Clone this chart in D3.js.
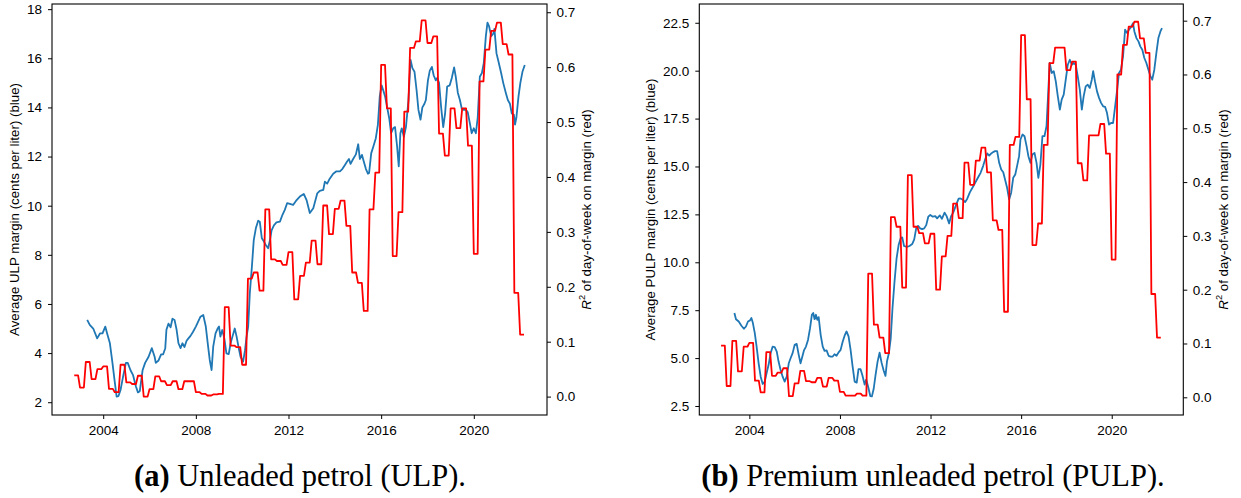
<!DOCTYPE html>
<html><head><meta charset="utf-8">
<script src="https://cdn.jsdelivr.net/npm/d3@7"></script>
<style>
body{margin:0;background:#fff;}
svg{display:block;}
</style></head><body>
<svg id="c" width="1241" height="498"></svg>
<script>
// ---------- data ----------
const xTicks = [2004, 2008, 2012, 2016, 2020];
const ulpTicks = [2, 4, 6, 8, 10, 12, 14, 16, 18];
const pulpTicks = [2.5, 5, 7.5, 10, 12.5, 15, 17.5, 20, 22.5];
const r2Ticks = [0, 0.1, 0.2, 0.3, 0.4, 0.5, 0.6, 0.7];
const captions = [["(a)", " Unleaded petrol (ULP)."], ["(b)", " Premium unleaded petrol (PULP)."]];
const yLabels = ["Average ULP margin (cents per liter) (blue)", "Average PULP margin (cents per liter) (blue)"];

const quarters = [2002.75,
 2003,2003.25,2003.5,2003.75, 2004,2004.25,2004.5,2004.75, 2005,2005.25,2005.5,2005.75,
 2006,2006.25,2006.5,2006.75, 2007,2007.25,2007.5,2007.75, 2008,2008.25,2008.5,2008.75,
 2009,2009.25,2009.5,2009.75, 2010,2010.25,2010.5,2010.75, 2011,2011.25,2011.5,2011.75,
 2012,2012.25,2012.5,2012.75, 2013,2013.25,2013.5,2013.75, 2014,2014.25,2014.5,2014.75,
 2015,2015.25,2015.5,2015.75, 2016,2016.25,2016.5,2016.75, 2017,2017.25,2017.5,2017.75,
 2018,2018.25,2018.5,2018.75, 2019,2019.25,2019.5,2019.75, 2020,2020.25,2020.5,2020.75,
 2021,2021.25,2021.5,2021.75, 2022];

const ulpR2 = [0.0385,
 0.0165,0.063,0.032,0.050, 0.055,0.014,0.008,0.058, 0.026,0.023,0.038,0.0,
 0.0135,0.037,0.028,0.021, 0.028,0.0135,0.028,0.028, 0.008,0.005,0.002,0.004,
 0.005,0.163,0.093,0.090, 0.058,0.215,0.226,0.193, 0.341,0.25,0.247,0.240,
 0.263,0.177,0.220,0.244, 0.284,0.241,0.348,0.296, 0.342,0.357,0.311,0.226,
 0.207,0.156,0.341,0.408, 0.604,0.525,0.256,0.336, 0.519,0.635,0.647,0.685,
 0.644,0.656,0.479,0.439, 0.525,0.489,0.525,0.457, 0.26,0.574,0.632,0.666,
 0.681,0.642,0.623,0.189, 0.113];

const pulpR2 = [0.096,
 0.021,0.105,0.048,0.094, 0.101,0.031,0.009,0.084, 0.040,0.046,0.054,0.002,
 0.026,0.049,0.030,0.028, 0.036,0.020,0.036,0.031, 0.010,0.003,0.003,0.007,
 0.003,0.230,0.135,0.111, 0.082,0.335,0.317,0.204, 0.413,0.317,0.305,0.286,
 0.304,0.200,0.262,0.300, 0.360,0.333,0.436,0.395, 0.440,0.464,0.418,0.329,
 0.311,0.159,0.469,0.484, 0.673,0.554,0.283,0.323, 0.469,0.621,0.650,0.650,
 0.608,0.624,0.435,0.403, 0.487,0.487,0.508,0.453, 0.256,0.600,0.655,0.689,
 0.698,0.667,0.640,0.192, 0.111];

const ulpYears = [
 2003.31,2003.42,2003.57,2003.74,2003.86,2003.97,2004.09,2004.17,2004.29,2004.40,
 2004.49,2004.58,2004.66,2004.75,2004.86,2004.98,2005.06,2005.18,2005.29,2005.41,
 2005.50,2005.58,2005.70,2005.81,2005.96,2006.10,2006.22,2006.27,2006.39,2006.50,
 2006.59,2006.68,2006.73,2006.82,2006.91,2006.99,2007.08,2007.17,2007.25,2007.34,
 2007.42,2007.51,2007.60,2007.68,2007.77,2007.88,2008.00,2008.10,2008.20,2008.32,
 2008.43,2008.53,2008.60,2008.68,2008.75,2008.85,2008.94,2009.00,2009.06,2009.14,
 2009.23,2009.32,2009.42,2009.50,2009.58,2009.68,2009.76,2009.84,2009.93,2010.04,
 2010.12,2010.19,2010.26,2010.33,2010.42,2010.50,2010.59,2010.69,2010.76,2010.85,
 2010.94,2011.02,2011.12,2011.20,2011.27,2011.37,2011.48,2011.63,2011.74,2011.84,
 2011.94,2012.06,2012.20,2012.35,2012.49,2012.66,2012.78,2012.92,2013.07,2013.24,
 2013.35,2013.50,2013.57,2013.67,2013.78,2013.93,2014.07,2014.22,2014.33,2014.43,
 2014.53,2014.61,2014.68,2014.79,2014.91,2015.01,2015.08,2015.17,2015.25,2015.34,
 2015.43,2015.48,2015.57,2015.66,2015.77,2015.86,2015.94,2016.02,2016.09,2016.17,
 2016.26,2016.35,2016.43,2016.52,2016.60,2016.69,2016.76,2016.83,2016.89,2016.98,
 2017.07,2017.18,2017.27,2017.35,2017.44,2017.53,2017.61,2017.70,2017.78,2017.87,
 2017.93,2018.02,2018.10,2018.19,2018.27,2018.36,2018.42,2018.50,2018.59,2018.68,
 2018.76,2018.85,2018.96,2019.05,2019.15,2019.22,2019.31,2019.40,2019.48,2019.57,
 2019.66,2019.74,2019.83,2019.91,2020.00,2020.09,2020.17,2020.26,2020.35,2020.43,
 2020.52,2020.59,2020.66,2020.75,2020.84,2020.89,2020.98,2021.07,2021.18,2021.27,
 2021.38,2021.47,2021.56,2021.64,2021.73,2021.78,2021.84,2021.93,2022.01,2022.10,
 2022.20];
const ulpMargin = [
 5.35,5.15,5.0,4.6,4.8,4.8,5.08,4.8,4.4,3.6,
 2.9,2.23,2.25,2.5,3.05,3.6,3.6,3.3,3.1,2.65,
 2.4,2.45,3.3,3.6,3.85,4.2,3.85,3.6,3.7,3.95,
 3.95,4.2,4.95,5.2,5.05,5.4,5.35,4.95,4.4,4.2,
 4.4,4.25,4.5,4.6,4.7,4.87,5.08,5.28,5.48,5.55,
 5.08,4.26,3.72,3.31,4.26,4.8,5.0,5.08,4.67,4.94,
 4.6,3.99,3.96,4.4,4.67,5.0,4.67,4.26,3.85,3.65,
 4.1,4.67,5.08,6.44,7.52,8.6,9.08,9.39,9.35,8.67,
 8.54,8.4,8.27,8.6,9.0,9.2,9.32,9.35,9.63,9.83,
 10.1,10.07,10.03,10.23,10.37,10.48,10.23,9.7,9.9,10.5,
 10.6,10.64,10.98,10.9,11.1,11.3,11.4,11.4,11.5,11.65,
 11.8,11.9,11.7,11.9,12.09,12.5,11.9,12.07,11.8,11.5,
 11.3,11.33,12.13,12.4,12.75,13.3,14.45,14.9,14.7,14.45,
 14.0,13.55,12.95,13.15,13.2,12.4,11.6,12.95,13.15,12.8,
 13.2,14.3,15.93,15.6,15.45,14.7,13.9,13.5,14.0,14.15,
 14.3,15.1,15.5,15.65,15.3,15.1,15.2,15.0,14.0,13.2,
 13.75,14.85,14.9,15.2,15.63,15.25,14.6,14.3,13.95,13.9,
 13.9,13.8,13.35,12.95,13.15,12.95,13.6,15.25,15.4,15.8,
 16.9,17.45,17.3,16.9,17.0,17.2,16.2,15.85,15.4,15.0,
 14.6,14.3,14.15,13.75,13.7,13.3,13.6,14.45,15.0,15.45,
 15.73];

const pulpYears = [
 2003.34,2003.41,2003.53,2003.65,2003.76,2003.85,2003.94,2004.03,2004.09,2004.15,
 2004.24,2004.32,2004.41,2004.50,2004.59,2004.68,2004.76,2004.85,2004.94,2005.03,
 2005.12,2005.21,2005.29,2005.38,2005.47,2005.56,2005.65,2005.74,2005.82,2005.91,
 2006.00,2006.09,2006.18,2006.26,2006.32,2006.41,2006.50,2006.59,2006.68,2006.76,
 2006.82,2006.88,2006.94,2007.00,2007.06,2007.15,2007.24,2007.32,2007.41,2007.50,
 2007.59,2007.68,2007.76,2007.85,2007.94,2008.03,2008.12,2008.21,2008.29,2008.38,
 2008.47,2008.56,2008.65,2008.74,2008.82,2008.91,2008.99,2009.09,2009.16,2009.25,
 2009.34,2009.41,2009.49,2009.57,2009.66,2009.75,2009.84,2009.93,2010.01,2010.08,
 2010.16,2010.24,2010.32,2010.41,2010.50,2010.59,2010.68,2010.75,2010.83,2010.95,
 2011.07,2011.19,2011.28,2011.37,2011.45,2011.54,2011.63,2011.72,2011.81,2011.90,
 2011.99,2012.10,2012.21,2012.29,2012.41,2012.50,2012.62,2012.71,2012.82,2012.91,
 2013.00,2013.12,2013.24,2013.32,2013.41,2013.53,2013.62,2013.74,2013.85,2013.97,
 2014.09,2014.21,2014.32,2014.41,2014.50,2014.59,2014.68,2014.76,2014.85,2014.94,
 2015.03,2015.12,2015.21,2015.29,2015.38,2015.47,2015.56,2015.65,2015.74,2015.82,
 2015.91,2015.97,2016.06,2016.15,2016.24,2016.32,2016.41,2016.50,2016.59,2016.68,
 2016.76,2016.85,2016.94,2017.03,2017.12,2017.18,2017.26,2017.35,2017.44,2017.53,
 2017.62,2017.71,2017.79,2017.88,2017.97,2018.06,2018.15,2018.24,2018.32,2018.41,
 2018.50,2018.59,2018.68,2018.76,2018.85,2018.94,2019.03,2019.12,2019.18,2019.26,
 2019.35,2019.44,2019.53,2019.62,2019.71,2019.79,2019.88,2019.97,2020.06,2020.15,
 2020.24,2020.32,2020.41,2020.50,2020.59,2020.68,2020.76,2020.85,2020.94,2021.00,
 2021.09,2021.18,2021.26,2021.35,2021.44,2021.53,2021.62,2021.71,2021.79,2021.88,
 2021.97,2022.06,2022.15,2022.22];
const pulpMargin = [
 7.35,7.03,6.91,6.69,6.53,6.65,6.91,6.97,7.09,6.86,
 6.3,5.6,4.73,4.03,3.65,3.77,4.21,4.65,5.26,5.6,
 5.57,5.34,4.82,4.38,4.03,3.77,4.03,4.73,4.99,5.26,
 5.69,5.74,5.17,4.73,4.99,5.4,5.6,5.95,6.56,7.26,
 7.35,7.03,7.26,7.0,7.14,6.2,5.6,5.38,5.4,5.12,
 5.08,5.08,5.2,5.12,5.3,5.43,5.85,6.18,6.39,6.13,
 5.43,4.56,3.77,3.72,4.42,4.42,4.1,3.62,3.88,3.48,
 3.02,3.0,3.4,4.1,4.8,5.28,4.75,4.35,4.07,4.85,
 5.25,6.0,7.6,9.0,10.2,10.9,11.25,11.3,10.85,10.8,
 10.85,10.95,11.2,11.8,11.9,11.77,11.73,11.77,11.94,12.38,
 12.47,12.38,12.41,12.29,12.45,12.27,12.59,12.41,12.03,12.41,
 12.59,12.97,13.32,13.33,13.28,13.14,13.32,13.66,13.89,14.15,
 14.41,14.67,15.02,15.36,15.68,15.57,15.68,15.75,15.8,15.8,
 15.19,14.84,14.7,14.32,13.89,13.28,13.63,14.41,14.58,15.02,
 15.54,16.41,16.67,16.58,16.06,15.54,15.19,15.63,15.71,15.19,
 14.41,15.1,16.58,16.58,17.1,18.49,20.4,19.88,19.97,19.44,
 18.66,17.97,18.49,18.75,19.53,20.31,20.57,20.31,20.4,20.31,
 19.7,19.01,17.97,18.66,19.18,19.27,19.1,19.53,19.97,19.44,
 18.92,18.58,18.32,18.14,18.11,17.8,17.19,17.27,17.27,18.14,
 19.01,19.88,20.05,20.75,22.14,21.96,22.14,22.27,22.48,22.05,
 21.7,21.53,21.27,21.09,20.66,20.4,20.05,19.7,19.53,20.05,
 20.92,21.7,22.05,22.22];

// ---------- drawing ----------
const svg = d3.select("#c");
const SANS = "'Liberation Sans', Arial, sans-serif";
const FS = 13.5;
const LFS = 13.3;
const TOP = 4, BOT = 415;

function styleAxis(g) {
  g.attr("font-family", SANS).attr("font-size", FS);
  g.select(".domain").remove();
  g.selectAll(".tick line").attr("stroke", "#000").attr("stroke-width", 1);
  g.selectAll(".tick text").attr("fill", "#000");
}

function panel(o) {
  const g = svg.append("g");
  const x = d3.scaleLinear().domain([2001.79, 2023.16]).range([o.x0, o.x1]);
  const yL = d3.scaleLinear().domain(o.yLdom).range([BOT, TOP]);
  const yR = d3.scaleLinear().domain(o.yRdom).range([BOT, TOP]);

  const blue = d3.line().x((d, i) => x(o.years[i])).y(d => yL(d));
  g.append("path").attr("d", blue(o.margin))
    .attr("fill", "none").attr("stroke", "#1f77b4").attr("stroke-width", 1.8)
    .attr("stroke-linejoin", "round");

  // red series: each quarterly value is held for two months, then moves to the next one
  const pts = [];
  o.r2.forEach((v, i) => { pts.push([quarters[i], v], [quarters[i] + 2 / 12, v]); });
  const red = d3.line().x(d => x(d[0])).y(d => yR(d[1]));
  g.append("path").attr("d", red(pts))
    .attr("fill", "none").attr("stroke", "#ff0000").attr("stroke-width", 1.8)
    .attr("stroke-linejoin", "round");

  g.append("rect").attr("x", o.x0).attr("y", TOP)
    .attr("width", o.x1 - o.x0).attr("height", BOT - TOP)
    .attr("fill", "none").attr("stroke", "#000").attr("stroke-width", 1.1);

  g.append("g").attr("transform", `translate(0,${BOT})`)
    .call(d3.axisBottom(x).tickValues(xTicks).tickFormat(d3.format("d"))
      .tickSizeInner(4).tickSizeOuter(0).tickPadding(6.3)).call(styleAxis);
  g.append("g").attr("transform", `translate(${o.x0},0)`)
    .call(d3.axisLeft(yL).tickValues(o.ticks).tickFormat(d3.format(o.fmt))
      .tickSizeInner(4).tickSizeOuter(0).tickPadding(6)).call(styleAxis);
  g.append("g").attr("transform", `translate(${o.x1},0)`)
    .call(d3.axisRight(yR).tickValues(r2Ticks).tickFormat(d3.format(".1f"))
      .tickSizeInner(4).tickSizeOuter(0).tickPadding(5.5)).call(styleAxis);

  const cy = (TOP + BOT) / 2;
  g.append("text").attr("transform", `translate(${o.lx},${cy}) rotate(-90)`)
    .attr("text-anchor", "middle").attr("font-family", SANS).attr("font-size", LFS)
    .text(o.label);
  const rl = g.append("text").attr("transform", `translate(${o.rx},${cy}) rotate(-90)`)
    .attr("text-anchor", "middle").attr("font-family", SANS).attr("font-size", LFS);
  rl.append("tspan").attr("font-style", "italic").text("R");
  rl.append("tspan").attr("font-size", LFS * 0.7).attr("dy", -LFS * 0.42).text("2");
  rl.append("tspan").attr("dy", LFS * 0.42).text(" of day-of-week on margin (red)");

  const cap = svg.append("text").attr("x", o.cx).attr("y", 485.5)
    .attr("text-anchor", "middle").attr("font-family", "'Liberation Serif', 'Times New Roman', serif")
    .attr("font-size", 30.5).attr("fill", "#000");
  cap.append("tspan").attr("font-weight", "bold").text(o.cap[0]);
  cap.append("tspan").text(o.cap[1]);
}

panel({x0: 52, x1: 547, yLdom: [1.48, 18.21], yRdom: [-0.0335, 0.715],
  years: ulpYears, margin: ulpMargin, r2: ulpR2, ticks: ulpTicks, fmt: "d",
  label: yLabels[0], lx: 19, rx: 591, cap: captions[0], cx: 300});
panel({x0: 699.3, x1: 1183.3, yLdom: [2.03, 23.48], yRdom: [-0.0329, 0.731],
  years: pulpYears, margin: pulpMargin, r2: pulpR2, ticks: pulpTicks, fmt: ".1f",
  label: yLabels[1], lx: 655, rx: 1228, cap: captions[1], cx: 933});
</script>
</body></html>
